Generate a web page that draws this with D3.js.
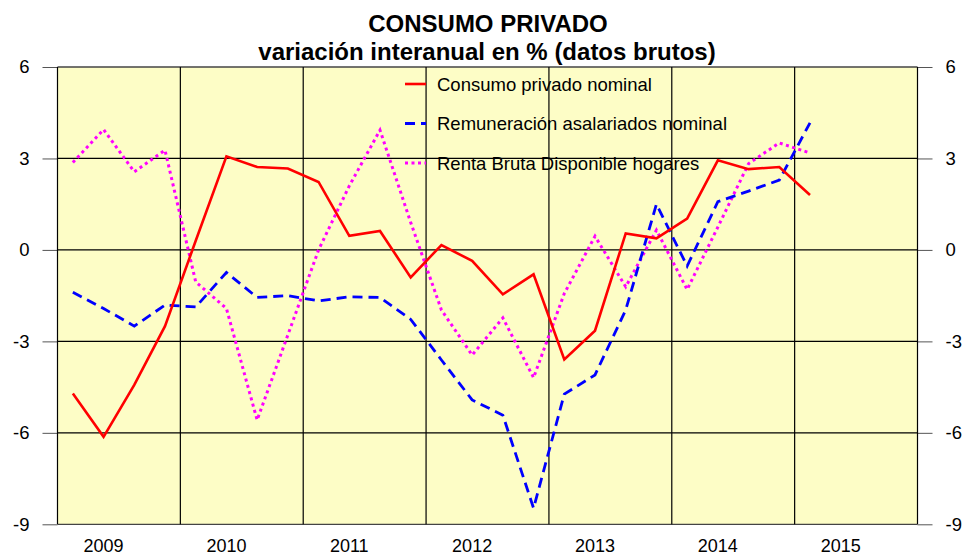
<!DOCTYPE html>
<html>
<head>
<meta charset="utf-8">
<script src="https://cdn.jsdelivr.net/npm/d3@7"></script>
<style>
    body { margin: 0; background: #fff; }
    text { font-family: Arial, "Liberation Sans", sans-serif; fill: #000; }
    .Title { font-size: 24px; font-weight: bold; }
    .AxisDisplay { font-size: 18.5px; }
    .Legend { font-size: 18.5px; }
</style>
</head>
<body>
<div id="ConsumoGraph"></div>
<script>
// quarterly data, 2009 Q1 .. 2015 Q1
var years = ["2009", "2010", "2011", "2012", "2013", "2014", "2015"];
var yTicks = [-9, -6, -3, 0, 3, 6];

var consumoNominal = [-4.71, -6.13, -4.43, -2.5, 0.3, 3.07, 2.72, 2.67, 2.23, 0.46, 0.62, -0.9,
    0.16, -0.36, -1.46, -0.8, -3.59, -2.65, 0.54, 0.38, 1.03, 2.94, 2.65, 2.72, 1.8];
var remuneracion = [-1.39, -1.92, -2.5, -1.81, -1.87, -0.74, -1.56, -1.5, -1.67, -1.54, -1.56, -2.28,
    -3.61, -4.92, -5.42, -8.47, -4.73, -4.1, -1.97, 1.5, -0.53, 1.58, 1.93, 2.29, 4.17];
var rentaBruta = [2.87, 3.95, 2.56, 3.27, -1.05, -1.92, -5.58, -2.79, 0.0, 2.1, 3.93, 0.9,
    -1.97, -3.45, -2.23, -4.19, -1.43, 0.45, -1.21, 0.65, -1.3, 0.75, 2.83, 3.51, 3.18];

var seriesNames = ["Consumo privado nominal", "Remuneración asalariados nominal", "Renta Bruta Disponible hogares"];

var W = 965, H = 557;
var margin = { top: 67, right: 47.5, bottom: 32.7, left: 57.5 };
var width = W - margin.left - margin.right;
var height = H - margin.top - margin.bottom;

var x = d3.scaleLinear()
    .domain([0, years.length * 4])
    .range([0, width]);
var y = d3.scaleLinear()
    .domain([-9, 6])
    .range([height, 0]);

var svg = d3.select("#ConsumoGraph").append("svg")
    .attr("width", W)
    .attr("height", H)
    .append("g")
    .attr("transform", "translate(" + margin.left + "," + margin.top + ")");

// pale yellow plot area with a faint stipple
var defs = svg.append("defs");
var pat = defs.append("pattern")
    .attr("id", "stipple")
    .attr("width", 2).attr("height", 2)
    .attr("patternUnits", "userSpaceOnUse");
pat.append("rect").attr("width", 2).attr("height", 2).attr("fill", "#ffffcc");
pat.append("rect").attr("width", 1).attr("height", 2).attr("fill", "#fbfbc0");

svg.append("rect")
    .attr("width", width)
    .attr("height", height)
    .attr("fill", "url(#stipple)");

// title
svg.append("text")
    .attr("class", "Title")
    .attr("x", 488 - margin.left)
    .attr("y", 32 - margin.top)
    .style("text-anchor", "middle")
    .text("CONSUMO PRIVADO");
svg.append("text")
    .attr("class", "Title")
    .attr("x", 487 - margin.left)
    .attr("y", 60 - margin.top)
    .style("text-anchor", "middle")
    .text("variación interanual en % (datos brutos)");

// left and right axes, ticks go outward; plain hyphen for negatives
var fmt = function (d) { return String(d); };
var yAxisL = d3.axisLeft(y).tickValues(yTicks).tickFormat(fmt).tickSize(15).tickPadding(13);
var yAxisR = d3.axisRight(y).tickValues(yTicks).tickFormat(fmt).tickSize(15).tickPadding(13);

var gL = svg.append("g").attr("class", "axis yl").call(yAxisL);
var gR = svg.append("g").attr("class", "axis yr")
    .attr("transform", "translate(" + width + ",0)")
    .call(yAxisR);
svg.selectAll(".axis .domain").remove();
svg.selectAll(".axis line").attr("stroke", "#555");
svg.selectAll(".axis text").attr("class", "AxisDisplay").style("font-size", "18.5px");

// horizontal grid
svg.append("g").selectAll("line")
    .data(yTicks)
    .enter().append("line")
    .attr("x1", 0).attr("x2", width)
    .attr("y1", function (d) { return y(d); })
    .attr("y2", function (d) { return y(d); })
    .attr("stroke", function (d) { return (d === 6 || d === -9) ? "#444" : "#000"; })
    .attr("stroke-width", 1.3);

// vertical grid at year boundaries (plus plot edges)
svg.append("g").selectAll("line")
    .data(d3.range(0, years.length + 1))
    .enter().append("line")
    .attr("x1", function (d) { return x(d * 4); })
    .attr("x2", function (d) { return x(d * 4); })
    .attr("y1", 0).attr("y2", height)
    .attr("stroke", "#000")
    .attr("stroke-width", 1.2);

// year labels, centered on the second quarter
svg.append("g").selectAll("text")
    .data(years)
    .enter().append("text")
    .attr("class", "AxisDisplay")
    .style("font-size", "18px")
    .attr("x", function (d, i) { return x(i * 4 + 1.5); })
    .attr("y", 552 - margin.top)
    .style("text-anchor", "middle")
    .text(function (d) { return d; });

var line = d3.line()
    .x(function (d, i) { return x(i + 0.5); })
    .y(function (d) { return y(d); });

var styles = [
    { data: consumoNominal, color: "#ff0000", width: 2.6, dash: null },
    { data: remuneracion, color: "#0000ff", width: 2.8, dash: "10,6" },
    { data: rentaBruta, color: "#ff00ff", width: 3, dash: "3,3.5" }
];

// draw the series: renta first so it sits underneath
[2, 1, 0].forEach(function (k) {
    var s = styles[k];
    svg.append("path")
        .datum(s.data)
        .attr("fill", "none")
        .attr("stroke", s.color)
        .attr("stroke-width", s.width)
        .attr("stroke-dasharray", s.dash)
        .attr("stroke-linejoin", "miter")
        .attr("d", line);
});

// legend (no background, gridlines show through)
var legend = svg.append("g")
    .attr("transform", "translate(" + (405 - margin.left) + "," + (84 - margin.top) + ")");
seriesNames.forEach(function (name, i) {
    var s = styles[i];
    legend.append("line")
        .attr("x1", 0).attr("x2", 21)
        .attr("y1", i * 39.5).attr("y2", i * 39.5)
        .attr("stroke", s.color)
        .attr("stroke-width", s.width)
        .attr("stroke-dasharray", s.dash);
    legend.append("text")
        .attr("class", "Legend")
        .attr("x", 32)
        .attr("y", i * 39.5 + 6.5)
        .text(name);
});
</script>
</body>
</html>
